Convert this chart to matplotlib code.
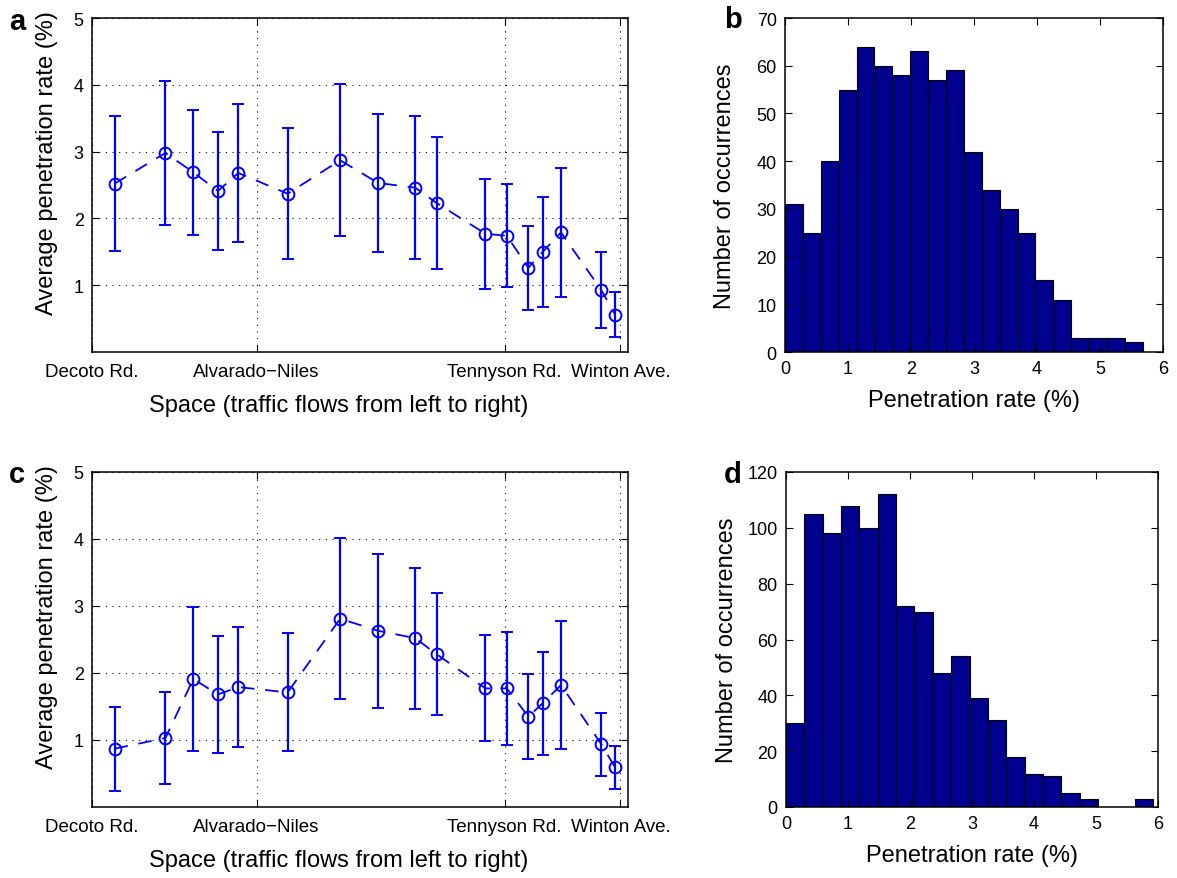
import numpy as np
import matplotlib.pyplot as plt

plt.rcParams['font.family'] = ['Liberation Sans', 'DejaVu Sans']

# location of the detectors along the freeway (miles from Decoto Rd.)
location = [0.42, 1.37, 1.89, 2.35, 2.73, 3.65, 4.63, 5.34, 6.03, 6.43,
            7.34, 7.74, 8.14, 8.41, 8.75, 9.50, 9.76]
landmarks = [0.0, 3.07, 7.70, 9.86]
landmark_names = ['Decoto Rd.', 'Alvarado\u2212Niles', 'Tennyson Rd.', 'Winton Ave.']

# panel a
mean_a = [2.52, 2.98, 2.69, 2.41, 2.68, 2.37, 2.87, 2.53, 2.46, 2.23,
          1.77, 1.74, 1.26, 1.50, 1.79, 0.93, 0.56]
std_a = [1.01, 1.08, 0.94, 0.89, 1.04, 0.98, 1.14, 1.03, 1.07, 0.99,
         0.82, 0.77, 0.63, 0.82, 0.96, 0.57, 0.34]

# panel c
mean_c = [0.87, 1.03, 1.91, 1.68, 1.79, 1.71, 2.81, 2.63, 2.52, 2.28,
          1.77, 1.77, 1.35, 1.55, 1.82, 0.94, 0.59]
std_c = [0.63, 0.69, 1.07, 0.87, 0.89, 0.88, 1.20, 1.15, 1.05, 0.91,
         0.79, 0.84, 0.64, 0.77, 0.95, 0.47, 0.32]

# panel b histogram (20 bins)
hist_b_max = 5.68
counts_b = [31, 25, 40, 55, 64, 60, 58, 63, 57, 59,
            42, 34, 30, 25, 15, 11, 3, 3, 3, 2]

# panel d histogram (20 bins)
hist_d_max = 5.92
counts_d = [30, 105, 98, 108, 100, 112, 72, 70, 48, 54,
            39, 31, 18, 12, 11, 5, 3, 0, 0, 3]

W, H = 1177, 879
fig = plt.figure(figsize=(W / 100, H / 100), dpi=100)


def px_axes(left, top, right, bottom):
    return fig.add_axes([left / W, 1 - bottom / H, (right - left) / W, (bottom - top) / H])


def style_axes(ax):
    for s in ax.spines.values():
        s.set_linewidth(1.1)
    ax.tick_params(direction='in', top=True, right=True, length=5, width=0.8,
                   labelsize=13, pad=6)


def space_panel(ax, mean, std):
    style_axes(ax)
    ax.plot(location, mean, color='blue', lw=1.3, dashes=(7.5, 6))
    ax.errorbar(location, mean, yerr=std, fmt='o', color='blue', mfc='none',
                ms=8.5, mew=1.4, elinewidth=1.6, capsize=4.5, capthick=1.6)
    ax.set_xlim(0, 10)
    ax.set_ylim(0, 5)
    ax.set_yticks([1, 2, 3, 4, 5])
    ax.set_xticks(landmarks)
    ax.set_xticklabels(landmark_names, fontsize=13.5)
    ax.tick_params(axis='x', pad=8)
    ax.grid(True, color='black', lw=0.8, linestyle=(0, (1, 5)))
    ax.set_ylabel('Average penetration rate (%)', fontsize=17)
    ax.set_xlabel('Space (traffic flows from left to right)', fontsize=17)
    ax.yaxis.set_label_coords(-0.063, 0.57)
    ax.xaxis.set_label_coords(0.46, -0.125)


def hist_panel(ax, counts, top_val, ymax, ystep):
    style_axes(ax)
    edges = np.linspace(0, top_val, len(counts) + 1)
    ax.bar(edges[:-1], counts, width=np.diff(edges), align='edge',
           color='#00008F', edgecolor='black', lw=0.8)
    ax.set_xlim(0, 6)
    ax.set_ylim(0, ymax)
    ax.set_xticks(range(0, 7))
    ax.set_yticks(range(0, ymax + 1, ystep))
    ax.set_ylabel('Number of occurrences', fontsize=17)
    ax.set_xlabel('Penetration rate (%)', fontsize=17)
    ax.yaxis.set_label_coords(-0.13, 0.5)
    ax.xaxis.set_label_coords(0.5, -0.11)


ax_a = px_axes(92, 19, 628, 353)
space_panel(ax_a, mean_a, std_a)

ax_c = px_axes(92, 473, 628, 808)
space_panel(ax_c, mean_c, std_c)

ax_b = px_axes(785, 19, 1163, 353)
hist_panel(ax_b, counts_b, hist_b_max, 70, 10)

ax_d = px_axes(786, 473, 1158, 808)
hist_panel(ax_d, counts_d, hist_d_max, 120, 20)

for letter, x, y in [('a', 17, 22), ('b', 733, 20), ('c', 17, 475), ('d', 733, 475)]:
    fig.text(x / W, 1 - y / H, letter, fontsize=21, fontweight='bold',
             ha='center', va='center')

fig.savefig('out.png', dpi=100)
